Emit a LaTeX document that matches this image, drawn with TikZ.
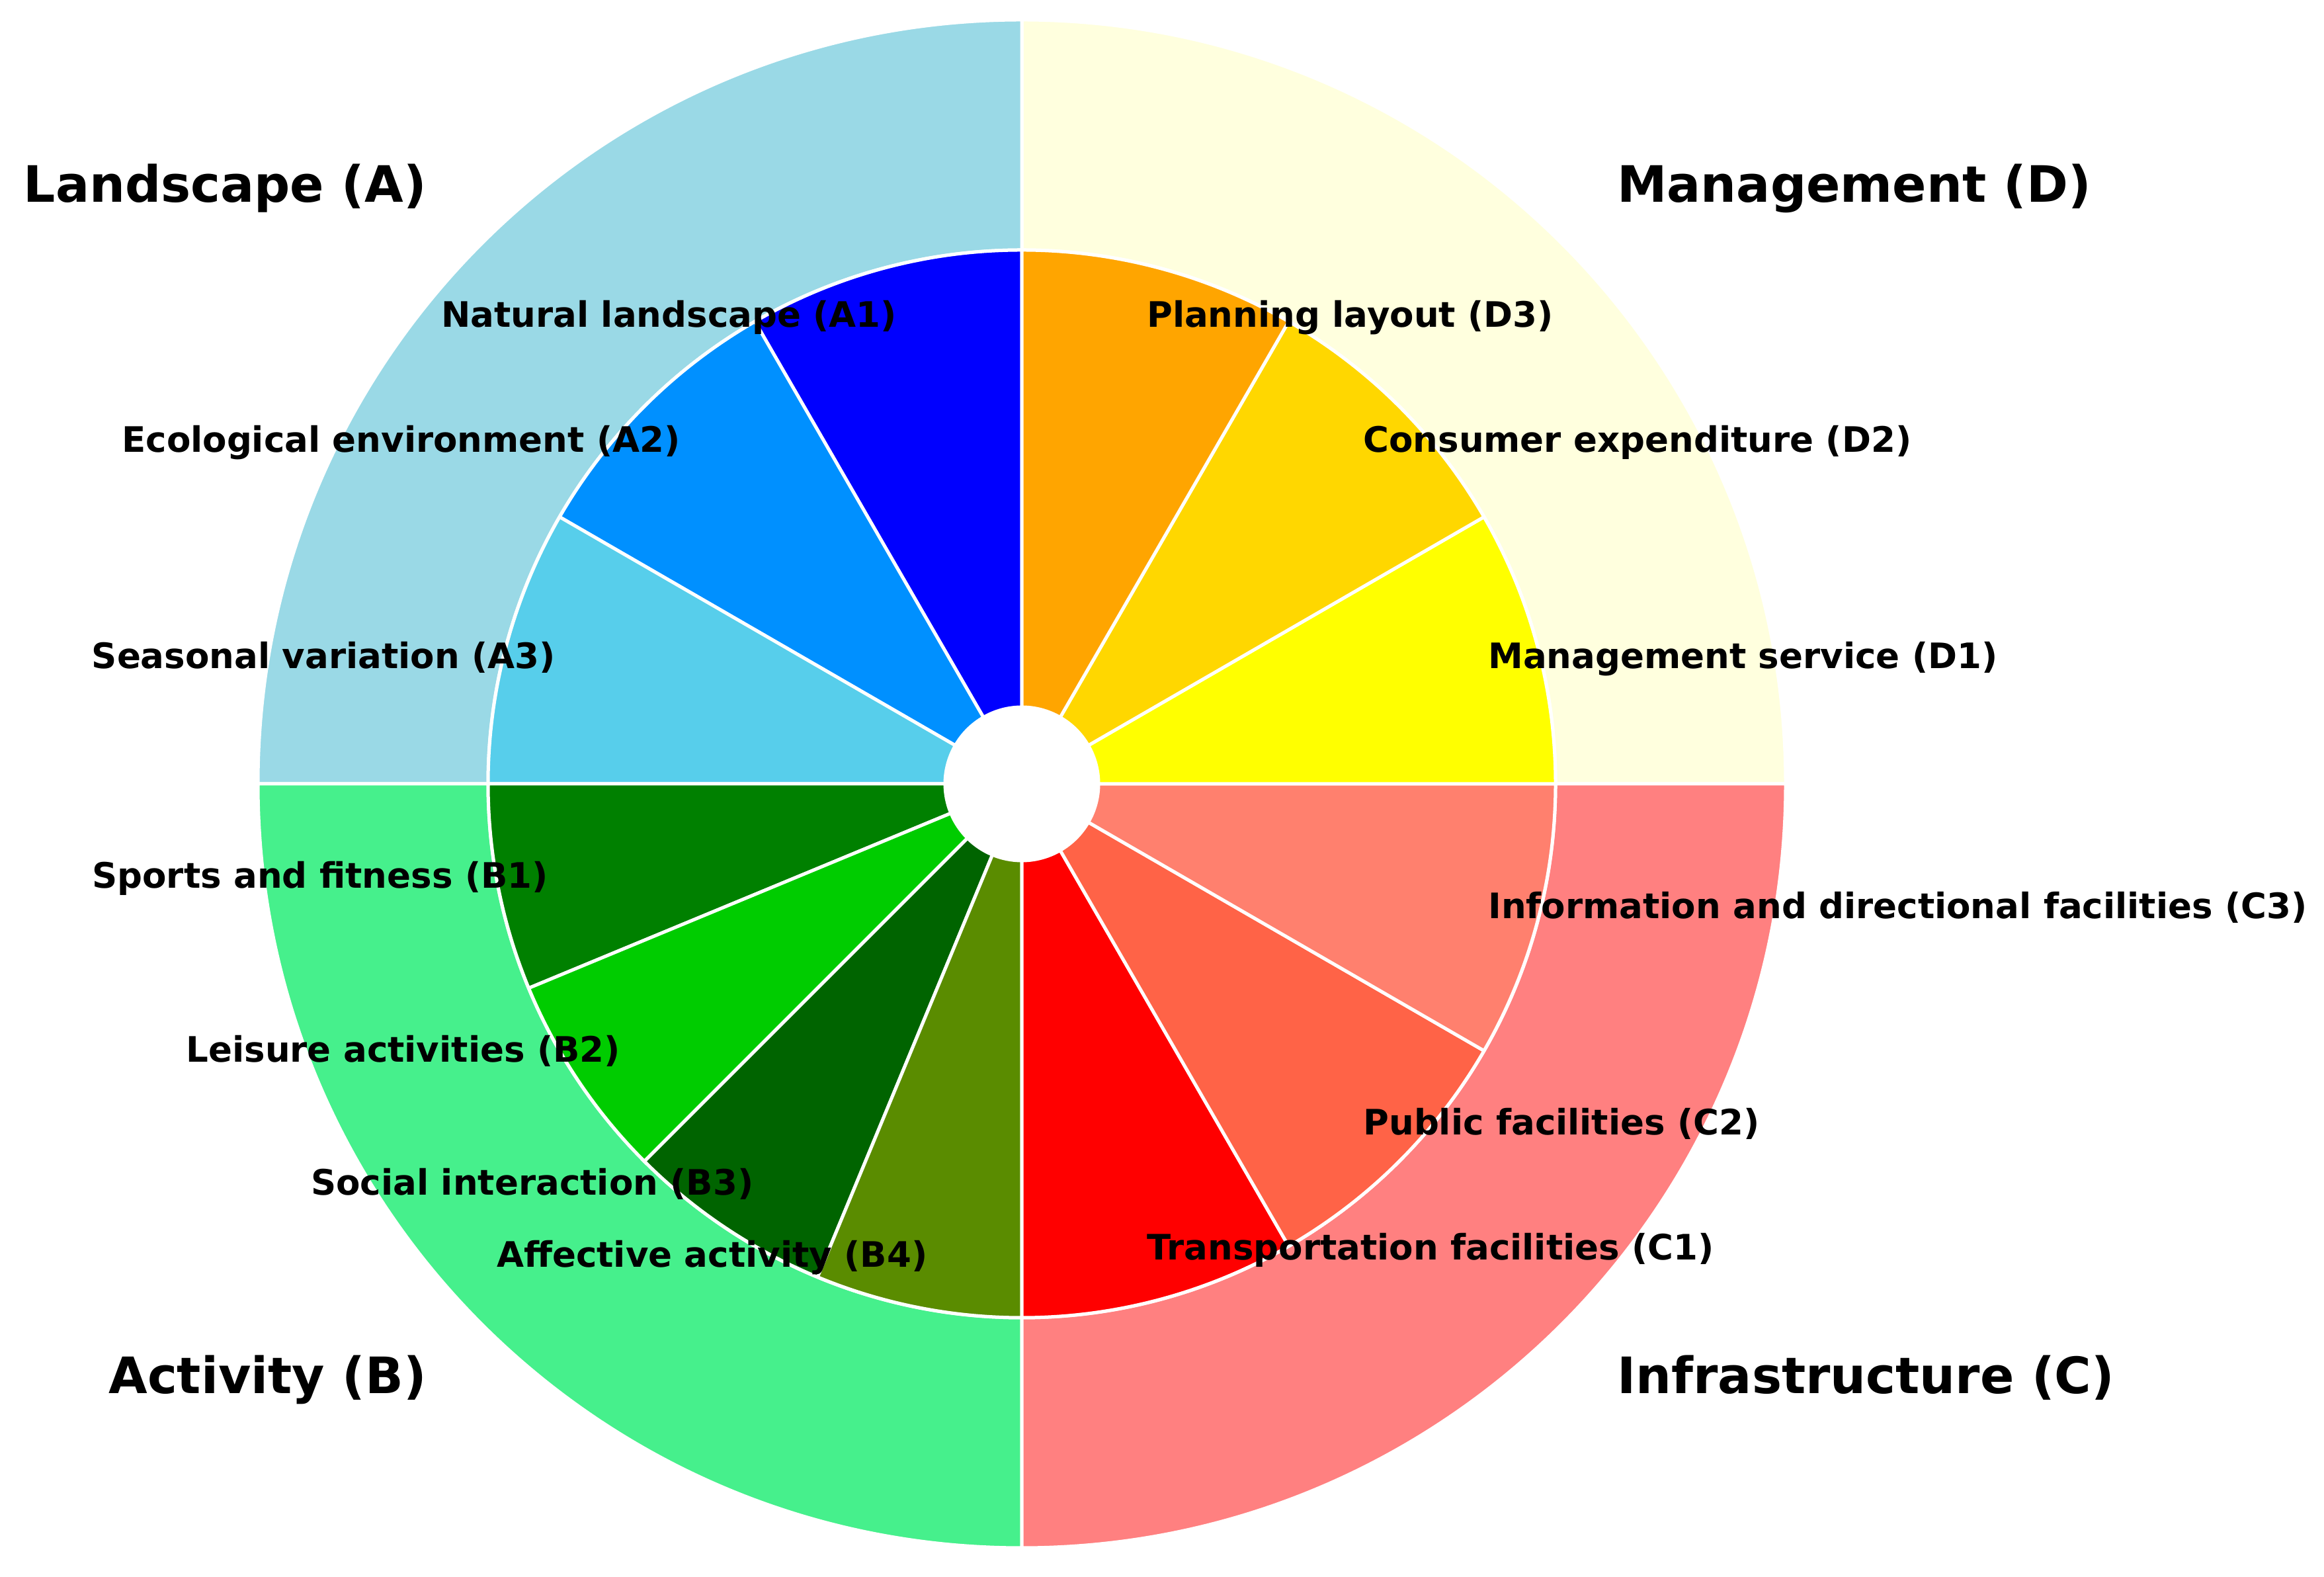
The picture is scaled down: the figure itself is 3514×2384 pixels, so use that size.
\documentclass[tikz,border=0pt]{standalone}
\usepackage{fontspec}
\setmainfont{DejaVu Sans}
\definecolor{outA}{HTML}{9AD9E6}
\definecolor{outB}{HTML}{46F08C}
\definecolor{outC}{HTML}{FF8080}
\definecolor{outD}{HTML}{FFFFDE}
\definecolor{colA1}{HTML}{0000FF}
\definecolor{colA2}{HTML}{0090FF}
\definecolor{colA3}{HTML}{57CEEB}
\definecolor{colB1}{HTML}{008000}
\definecolor{colB2}{HTML}{00CC00}
\definecolor{colB3}{HTML}{006400}
\definecolor{colB4}{HTML}{5A8C00}
\definecolor{colC1}{HTML}{FF0000}
\definecolor{colC2}{HTML}{FF6347}
\definecolor{colC3}{HTML}{FF806E}
\definecolor{colD1}{HTML}{FFFF00}
\definecolor{colD2}{HTML}{FFD700}
\definecolor{colD3}{HTML}{FFA500}
\newcommand\ringsec[5]{\path[secstyle,fill=#1] (#2:#4) arc[start angle=#2,end angle=#3,radius=#4] -- (#3:#5) arc[start angle=#3,end angle=#2,radius=#5] -- cycle;}
\begin{document}
\begin{tikzpicture}[x=1pt,y=1pt,
  catlbl/.style={font=\fontsize{75.8}{90}\selectfont\bfseries, inner sep=0pt, text height=57.6pt, text depth=15.8pt},
  wlbl/.style={font=\fontsize{53}{64}\selectfont\bfseries, inner sep=0pt, text height=40.3pt, text depth=11pt},
  secstyle/.style={draw=white, line width=5pt, line join=round}]
\useasboundingbox[fill=white] (0,0) rectangle (3514,2384);
\coordinate (C) at (1545,1199);
\begin{scope}[shift={(C)}]
  % outer ring
  \ringsec{outD}{0}{90}{807}{1155}
  \ringsec{outA}{90}{180}{807}{1155}
  \ringsec{outB}{180}{270}{807}{1155}
  \ringsec{outC}{270}{360}{807}{1155}
  % inner wedges
  \ringsec{colA1}{90}{120}{116}{807}
  \ringsec{colA2}{120}{150}{116}{807}
  \ringsec{colA3}{150}{180}{116}{807}
  \ringsec{colB1}{180}{202.5}{116}{807}
  \ringsec{colB2}{202.5}{225}{116}{807}
  \ringsec{colB3}{225}{247.5}{116}{807}
  \ringsec{colB4}{247.5}{270}{116}{807}
  \ringsec{colC1}{270}{300}{116}{807}
  \ringsec{colC2}{300}{330}{116}{807}
  \ringsec{colC3}{330}{360}{116}{807}
  \ringsec{colD1}{0}{30}{116}{807}
  \ringsec{colD2}{30}{60}{116}{807}
  \ringsec{colD3}{60}{90}{116}{807}
  % wedge labels
  \node[wlbl, anchor=east] (lA1) at (105:730) {Natural landscape (A1)};
  \node[wlbl, anchor=east] (lA2) at (135:730) {Ecological environment (A2)};
  \node[wlbl, anchor=east] (lA3) at (165:730) {Seasonal variation (A3)};
  \node[wlbl, anchor=east] (lB1) at (191.25:730) {Sports and fitness (B1)};
  \node[wlbl, anchor=east] (lB2) at (213.75:730) {Leisure activities (B2)};
  \node[wlbl, anchor=east] (lB3) at (236.25:730) {Social interaction (B3)};
  \node[wlbl, anchor=east] (lB4) at (258.75:730) {Affective activity (B4)};
  \node[wlbl, anchor=west] (lC1) at (285:730) {Transportation facilities (C1)};
  \node[wlbl, anchor=west] (lC2) at (315:730) {Public facilities (C2)};
  \node[wlbl, anchor=west] (lC3) at (345:730) {Information and directional facilities (C3)};
  \node[wlbl, anchor=west] (lD1) at (15:730) {Management service (D1)};
  \node[wlbl, anchor=west] (lD2) at (45:730) {Consumer expenditure (D2)};
  \node[wlbl, anchor=west] (lD3) at (75:730) {Planning layout (D3)};
  % category labels
  \node[catlbl, anchor=east] (catA) at (135:1273) {Landscape (A)};
  \node[catlbl, anchor=east] (catB) at (225:1273) {Activity (B)};
  \node[catlbl, anchor=west] (catC) at (315:1273) {Infrastructure (C)};
  \node[catlbl, anchor=west] (catD) at (45:1273) {Management (D)};
\end{scope}
\end{tikzpicture}
\end{document}
